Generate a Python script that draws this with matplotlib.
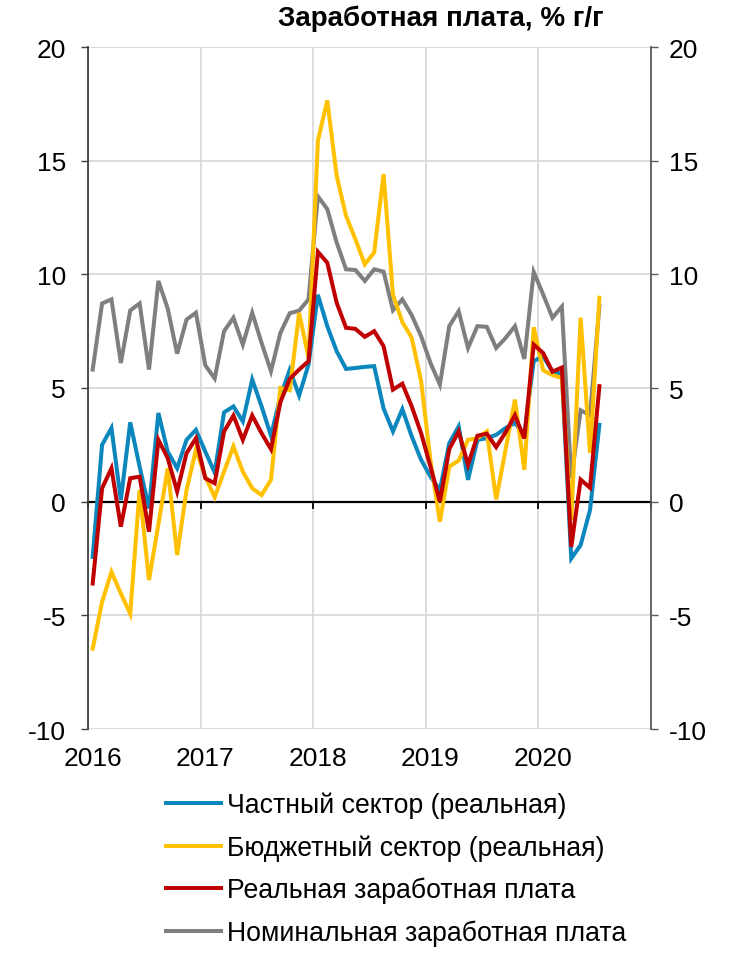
import matplotlib
matplotlib.use("Agg")
import matplotlib.pyplot as plt
import numpy as np
import pandas as pd

plt.rcParams['font.family'] = ['Liberation Sans', 'DejaVu Sans']
plt.rcParams['axes.unicode_minus'] = False

# ---- data (monthly, Jan 2016 - Jul 2020), % y/y ----
months = pd.period_range('2016-01', '2020-07', freq='M')

private_real = [
    -2.43, 2.50, 3.24, 0.07, 3.49, 1.54, -0.30, 3.90, 2.20, 1.47, 2.72, 3.16,
    2.20, 1.28, 3.93, 4.19, 3.53, 5.37, 4.19, 2.90, 4.63, 5.80, 4.67, 6.03,
    9.10, 7.72, 6.62, 5.84, 5.88, 5.93, 5.96, 4.10, 3.09, 4.07, 2.87, 1.84,
    1.10, 0.51, 2.57, 3.31, 0.96, 2.72, 2.79, 2.94, 3.24, 3.46, 2.95, 6.18,
    6.40, 5.72, 5.62, -2.50, -1.91, -0.37, 3.38,
]
budget_real = [
    -6.47, -4.41, -3.09, -4.04, -4.93, 0.51, -3.45, -1.00, 1.47, -2.35, 0.51, 2.28,
    1.10, 0.20, 1.32, 2.43, 1.32, 0.59, 0.29, 0.96, 5.00, 4.90, 8.31, 6.33,
    15.88, 17.65, 14.34, 12.57, 11.54, 10.44, 10.96, 14.41, 9.10, 7.90, 7.21, 5.30,
    1.80, -0.88, 1.54, 1.81, 2.72, 2.79, 3.09, 0.10, 2.28, 4.49, 1.40, 7.67,
    5.78, 5.57, 5.44, -0.80, 8.09, 2.15, 8.97,
]
real_wage = [
    -3.60, 0.59, 1.47, -1.10, 1.03, 1.10, -1.32, 2.72, 1.91, 0.45, 2.13, 2.79,
    1.03, 0.81, 3.09, 3.79, 2.72, 3.79, 3.01, 2.31, 4.37, 5.40, 5.81, 6.18,
    10.99, 10.51, 8.75, 7.65, 7.60, 7.25, 7.50, 6.84, 4.93, 5.19, 4.19, 3.01,
    1.54, 0.00, 2.31, 3.09, 1.62, 2.90, 2.99, 2.40, 3.05, 3.80, 2.78, 6.91,
    6.54, 5.72, 5.90, -1.99, 0.97, 0.61, 5.08,
]
nominal_wage = [
    5.81, 8.72, 8.90, 6.10, 8.41, 8.72, 5.81, 9.71, 8.49, 6.51, 8.01, 8.31,
    6.00, 5.42, 7.50, 8.09, 6.91, 8.31, 6.98, 5.74, 7.42, 8.29, 8.40, 8.90,
    13.43, 12.87, 11.40, 10.22, 10.19, 9.71, 10.22, 10.12, 8.42, 8.90, 8.20, 7.28,
    6.10, 5.15, 7.72, 8.38, 6.76, 7.72, 7.69, 6.76, 7.20, 7.72, 6.28, 10.10,
    9.12, 8.09, 8.58, 1.01, 4.02, 3.80, 8.60,
]

labels = ['Частный сектор (реальная)', 'Бюджетный сектор (реальная)',
          'Реальная заработная плата', 'Номинальная заработная плата']
colors = ['#0B87BE', '#FFC000', '#C00000', '#7F7F7F']
title = 'Заработная плата, % г/г'
years = [2016, 2017, 2018, 2019, 2020, 2021]
year_labels = ['2016', '2017', '2018', '2019', '2020']
yticks = [-10, -5, 0, 5, 10, 15, 20]

# x position: middle of each month
x = np.array([p.year + (p.month - 0.5) / 12 for p in months])

fig = plt.figure(figsize=(7.33, 9.54), dpi=100)
ax = fig.add_axes([88 / 733, 1 - 730 / 954, (651 - 88) / 733, (730 - 48) / 954])

lw = 2.9
series = [private_real, budget_real, real_wage, nominal_wage]
zorders = [3, 4, 5, 2]
handles = []
for s, c, lab, z in zip(series, colors, labels, zorders):
    h, = ax.plot(x, s, color=c, lw=lw, label=lab, zorder=z, solid_joinstyle='miter')
    handles.append(h)

ax.set_xlim(years[0], years[-1])
ax.set_ylim(-10, 20)
ax.set_yticks(yticks)
ax.set_xticks(years)
ax.grid(True, color='#D9D9D9', lw=1.3, zorder=0)
ax.set_axisbelow(True)

tick_fs = 19

# spines
ax.spines['top'].set_visible(False)
ax.spines['right'].set_visible(False)
ax.spines['bottom'].set_position(('data', 0))
ax.spines['bottom'].set_color('black')
ax.spines['bottom'].set_linewidth(1.6)
ax.spines['bottom'].set_zorder(1)
ax.spines['left'].set_color('#404040')
ax.spines['left'].set_linewidth(1.3)

ax.tick_params(axis='x', direction='out', length=5, width=1.3, color='black',
               labelbottom=False)
ax.tick_params(axis='y', direction='out', length=5, width=1.0, color='#404040',
               labelsize=tick_fs, pad=11)

# year labels at bottom of the plot area
sec = ax.secondary_xaxis('bottom')
sec.set_xticks([y + 0.5 / 12 for y in years[:-1]])
sec.set_xticklabels(year_labels)
sec.tick_params(length=0, labelsize=tick_fs, pad=12)
sec.spines['bottom'].set_visible(False)

# right axis
ax2 = ax.twinx()
ax2.set_ylim(-10, 20)
ax2.set_yticks(yticks)
for sp in ['top', 'left', 'bottom']:
    ax2.spines[sp].set_visible(False)
ax2.spines['right'].set_color('#595959')
ax2.spines['right'].set_linewidth(1.3)
ax2.tick_params(axis='y', direction='out', length=5, width=1.0, color='#595959',
                labelsize=tick_fs, pad=8)

fig.text(441 / 733, 1 - 19 / 954, title, ha='center', va='center',
         fontsize=20, fontweight='bold')

fig.legend(handles=handles, labels=labels, loc='upper left',
           bbox_to_anchor=(166 / 733, 1 - 793 / 954), frameon=False,
           fontsize=19.2, handlelength=2.05, handletextpad=0.22,
           labelspacing=0.6, borderaxespad=0, borderpad=0)

fig.savefig('out.png', dpi=100)
